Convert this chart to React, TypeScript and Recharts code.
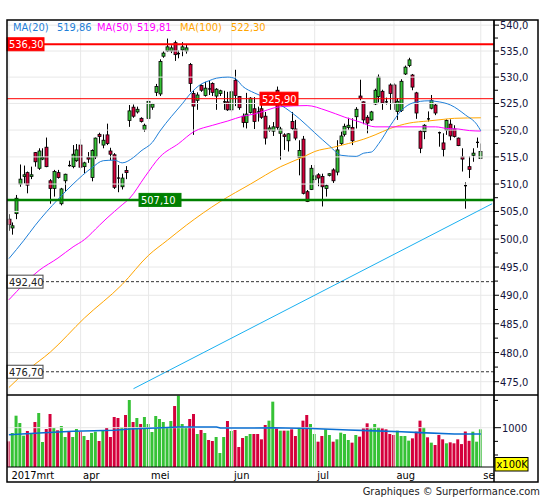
import React from "react";
import { ComposedChart, Bar, Line, XAxis, YAxis, ReferenceLine, Cell } from "recharts";

const FONT = "'DejaVu Sans Condensed', 'DejaVu Sans', sans-serif";
const GREEN = "#36c236";
const RED = "#d4003c";
const BLUE = "#1f7fd8";
const MAG = "#ff00ff";
const ORANGE = "#ffa500";
const TREND = "#1ab0f0";
const GRID = "#e8e8e8";
const TXT = "#14143c";

// trading days per month (2017); last three September slots are empty future space
const marDays = [7, 8, 9, 10, 13, 14, 15, 16, 17, 20, 21, 22, 23, 24, 27, 28, 29, 30, 31];
const aprDays = [3, 4, 5, 6, 7, 10, 11, 12, 13, 18, 19, 20, 21, 24, 25, 26, 27, 28];
const meiDays = [2, 3, 4, 5, 8, 9, 10, 11, 12, 15, 16, 17, 18, 19, 22, 23, 24, 25, 26, 29, 30, 31];
const junDays = [1, 2, 5, 6, 7, 8, 9, 12, 13, 14, 15, 16, 19, 20, 21, 22, 23, 26, 27, 28, 29, 30];
const julDays = [3, 4, 5, 6, 7, 10, 11, 12, 13, 14, 17, 18, 19, 20, 21, 24, 25, 26, 27, 28, 31];
const augDays = [1, 2, 3, 4, 7, 8, 9, 10, 11, 14, 15, 16, 17, 18, 21, 22, 23, 24, 25, 28, 29, 30, 31];
const sepDays = [1, 4, 5, 6];

const monthStarts = ["2017-03-07", "2017-04-03", "2017-05-02", "2017-06-01", "2017-07-03", "2017-08-01", "2017-09-01"];
const monthLabels = ["2017mrt", "apr", "mei", "jun", "jul", "aug", "se"];

const openV = [
  503.6, 502.0, 504.6, 510.0, 511.4, 512.1, 511.4, 515.8, 512.9, 514.6,
  516.8, 510.6, 509.2, 512.1, 506.4, 510.6, 513.5, 513.2, 514.3, 517.2,
  513.2, 514.9, 511.2, 515.0, 519.2, 517.2, 519.1, 516.1, 515.4, 511.2,
  509.5, 512.5, 521.8, 524.3, 523.4, 522.2, 520.1, 522.2, 524.3, 527.1,
  526.8, 534.0, 535.0, 535.0, 536.6, 534.4, 535.2, 535.0, 532.4, 526.9,
  525.6, 528.4, 526.5, 527.8, 528.8, 526.4, 526.9, 525.2, 525.3, 523.8,
  529.4, 526.3, 522.6, 521.4, 523.3, 524.0, 523.5, 524.0, 522.6, 520.0,
  519.8, 527.5, 519.4, 519.1, 518.0, 521.6, 520.2, 514.9, 518.3, 508.6,
  509.0, 510.8, 511.7, 511.4, 509.2, 511.6, 512.6, 512.2, 517.5, 519.2,
  520.5, 520.5, 522.5, 526.4, 525.3, 522.4, 521.9, 524.9, 526.3, 527.3,
  525.4, 528.5, 528.5, 523.5, 523.7, 530.6, 532.2, 530.4, 527.0, 519.8,
  519.7, 522.2, 524.1, 524.7, 519.6, 517.6, 520.0, 521.1, 520.2, 518.5,
  515.0, 509.8, 513.2, 515.3, 517.6, 514.7,
];
const highV = [
  504.5, 503.0, 508.0, 513.6, 513.4, 512.3, 513.2, 515.9, 516.6, 516.6,
  518.6, 510.9, 512.6, 512.6, 509.3, 511.9, 514.3, 517.2, 517.4, 518.3,
  514.1, 515.9, 516.4, 518.6, 519.5, 519.2, 521.2, 516.7, 515.7, 513.5,
  511.9, 513.3, 524.7, 524.8, 524.4, 522.4, 521.2, 525.6, 525.1, 528.7,
  533.4, 535.0, 537.4, 536.1, 537.0, 535.1, 536.7, 536.3, 532.7, 527.5,
  527.1, 528.6, 529.1, 529.4, 529.0, 527.9, 527.6, 527.4, 527.2, 527.5,
  531.4, 526.4, 523.1, 527.0, 526.2, 526.2, 524.4, 526.0, 523.4, 520.9,
  521.5, 528.2, 520.6, 519.4, 519.4, 523.4, 521.9, 518.1, 518.9, 508.9,
  513.5, 513.5, 512.0, 511.9, 509.9, 512.0, 512.9, 518.1, 519.7, 521.2,
  522.3, 522.2, 524.3, 529.5, 525.4, 522.8, 523.6, 527.8, 530.5, 527.6,
  526.1, 528.8, 528.8, 526.0, 529.6, 532.2, 533.7, 530.6, 527.2, 520.0,
  521.1, 523.5, 526.6, 524.9, 519.7, 519.4, 522.0, 522.0, 520.9, 518.6,
  516.6, 510.3, 515.1, 516.6, 518.6, 517.5,
];
const lowV = [
  501.5, 500.8, 503.6, 509.5, 510.1, 508.3, 510.9, 513.2, 512.6, 514.4,
  513.1, 506.4, 507.7, 511.0, 506.1, 508.6, 513.2, 512.9, 514.1, 512.7,
  512.0, 513.9, 510.5, 514.6, 517.5, 516.6, 517.2, 514.4, 509.1, 508.5,
  509.0, 510.9, 520.6, 522.3, 523.1, 521.4, 519.7, 521.6, 523.8, 526.4,
  526.4, 533.7, 534.8, 534.6, 533.1, 533.6, 534.0, 534.5, 527.2, 519.1,
  523.8, 527.2, 526.3, 526.6, 526.4, 523.8, 526.4, 523.8, 523.6, 523.4,
  524.5, 523.8, 520.5, 520.3, 523.1, 520.2, 521.6, 522.1, 517.3, 519.7,
  518.9, 520.0, 514.5, 516.3, 516.0, 520.0, 518.1, 511.6, 508.1, 506.7,
  508.9, 510.2, 509.6, 505.9, 507.7, 511.4, 510.2, 511.6, 517.2, 518.8,
  520.0, 517.2, 520.3, 525.6, 521.1, 519.4, 521.7, 524.7, 525.2, 523.8,
  524.8, 523.8, 523.8, 521.9, 523.4, 530.4, 531.9, 527.5, 522.1, 515.7,
  518.3, 521.6, 523.9, 522.8, 516.9, 515.0, 519.1, 518.1, 518.6, 517.0,
  512.3, 505.5, 511.1, 514.1, 516.7, 514.6,
];
const closeV = [
  502.6, 502.4, 507.4, 510.9, 511.7, 509.8, 511.7, 514.1, 516.1, 514.9,
  513.2, 509.2, 512.3, 511.2, 509.1, 511.8, 513.3, 515.5, 516.3, 513.1,
  513.9, 514.6, 516.2, 518.5, 518.8, 518.1, 517.5, 515.5, 509.4, 511.0,
  511.1, 512.1, 523.6, 522.6, 523.9, 521.6, 520.9, 525.4, 524.9, 528.2,
  533.0, 534.6, 535.8, 535.6, 534.3, 534.6, 535.8, 535.6, 528.8, 524.5,
  526.6, 527.5, 527.9, 527.7, 527.1, 527.7, 527.4, 525.4, 523.8, 527.2,
  526.5, 524.2, 521.4, 523.0, 526.0, 521.6, 523.3, 522.4, 518.5, 520.4,
  520.6, 520.5, 520.2, 518.8, 519.3, 520.3, 518.5, 516.2, 508.3, 506.8,
  512.9, 511.5, 511.1, 509.5, 509.7, 511.9, 510.6, 516.3, 518.9, 520.7,
  520.9, 518.0, 523.9, 526.0, 521.9, 521.3, 523.4, 527.5, 530.0, 525.1,
  525.2, 526.9, 525.1, 525.4, 529.2, 531.9, 533.3, 528.1, 523.2, 516.6,
  520.9, 522.0, 525.6, 523.2, 519.4, 516.4, 521.8, 518.9, 518.8, 517.1,
  514.6, 509.6, 512.7, 515.7, 517.8, 516.0,
];
// volume in units of 100K
const volumeV = [
  750, 903, 1220, 1086, 854, 940, 903, 1104, 1269, 738,
  976, 1251, 994, 952, 1031, 830, 921, 830, 976, 927,
  848, 775, 903, 927, 756, 958, 994, 830, 1196, 1178,
  1013, 1233, 1507, 1104, 1178, 1068, 1196, 1068, 921, 1214,
  1159, 1104, 1013, 1123, 1397, 1587, 1068, 994, 1159, 1251,
  885, 958, 903, 775, 756, 830, 537, 830, 1123, 940,
  958, 646, 811, 848, 885, 885, 885, 787, 1049, 1129,
  1477, 988, 946, 946, 946, 970, 848, 1007, 1129, 1233,
  1068, 885, 744, 848, 970, 866, 744, 787, 909, 885,
  775, 726, 866, 836, 988, 1080, 988, 1068, 1007, 988,
  970, 885, 866, 946, 848, 848, 763, 805, 927, 1129,
  1007, 824, 726, 683, 866, 787, 714, 732, 714, 787,
  700, 930, 760, 927, 744, 970,
];

// moving averages: [day index, value]
const ma20Pts = [
  [0, 496.5], [4, 499.8], [7, 502.5], [13, 507.2], [17, 510.0], [22, 513.0], [25, 514.3], [28, 514.4],
  [30, 513.9], [33, 514.9], [35, 516.1], [38, 517.7], [40, 519.8], [43, 522.5], [46, 525.0], [48, 526.8],
  [51, 528.7], [53, 529.3], [55, 529.8], [58, 530.0], [60, 529.7], [62, 528.2], [65, 527.0], [69, 525.8],
  [72, 524.7], [77, 522.1], [81, 519.5], [85, 517.0], [88, 515.3], [92, 515.1], [94, 515.7], [96, 515.9],
  [98, 517.5], [101, 520.8], [104, 523.7], [107, 525.1], [111, 525.5], [114, 525.3], [117, 524.7],
  [121, 522.8], [124, 521.0], [125, 519.86],
];
const ma50Pts = [
  [0, 489.2], [8, 494.4], [13, 496.6], [17, 498.6], [20, 499.9], [24, 502.5], [26, 503.8], [30, 506.2],
  [32, 507.4], [36, 511.3], [40, 515.0], [45, 517.5], [49, 519.7], [54, 520.9], [58, 521.7], [62, 522.6],
  [65, 523.0], [72, 524.4], [79, 524.6], [84, 523.7], [89, 522.4], [93, 521.5], [97, 520.6], [101, 520.6],
  [106, 520.6], [113, 520.6], [116, 520.3], [119, 520.2], [122, 519.9], [125, 519.81],
];
const ma100Pts = [
  [0, 474.0], [5, 477.0], [11, 480.1], [20, 486.0], [30, 491.9], [37, 497.1], [42, 499.8], [47, 502.5],
  [56, 506.8], [64, 510.0], [72, 513.2], [78, 515.0], [81, 516.0], [86, 516.8], [90, 517.5], [94, 518.3],
  [97, 519.1], [101, 520.3], [106, 521.3], [111, 521.7], [115, 522.0], [118, 522.2], [125, 522.3],
];
const volMaPts = [
  [0, 872], [8, 903], [17, 934], [28, 952], [32, 976], [39, 994], [45, 1013], [55, 1013], [56, 994],
  [64, 994], [70, 1000], [80, 985], [90, 958], [95, 946], [104, 927], [109, 909], [118, 885], [125, 885],
];
const trendPts = [[33, 473.8], [128, 506.4]];

const priceMajor = [475, 480, 485, 490, 495, 500, 505, 510, 515, 520, 525, 530, 535, 540];
const priceMinor = [477.5, 482.5, 487.5, 492.5, 497.5, 502.5, 507.5, 512.5, 517.5, 522.5, 527.5, 532.5, 537.5];
const priceTicks = [...priceMajor, ...priceMinor].sort((a, b) => a - b);
const volTicks = [500, 750, 1000, 1500];

const levels = [
  { v: 536.3, stroke: "#ff0000", w: 2, dash: undefined, bg: "#ff0000", fg: "#ffffff", border: "#ff0000", dx: 0, bw: 37 },
  { v: 525.9, stroke: "#ff0000", w: 1, dash: undefined, bg: "#ff0000", fg: "#ffffff", border: "#ff0000", dx: 253, bw: 38 },
  { v: 507.1, stroke: "#008000", w: 2.5, dash: undefined, bg: "#008000", fg: "#ffffff", border: "#008000", dx: 132, bw: 42 },
  { v: 492.4, stroke: "#333333", w: 1, dash: "3 2", bg: "#ffffff", fg: "#222222", border: "#444444", dx: 0, bw: 36 },
  { v: 476.7, stroke: "#333333", w: 1, dash: "3 2", bg: "#ffffff", fg: "#222222", border: "#444444", dx: 0, bw: 36 },
];

const comma = (v: number, d: number) => v.toFixed(d).replace(".", ",");

const dates: string[] = [];
const addMonth = (m: string, days: number[]) =>
  days.forEach((d) => dates.push(`2017-${m}-${String(d).padStart(2, "0")}`));
addMonth("03", marDays);
addMonth("04", aprDays);
addMonth("05", meiDays);
addMonth("06", junDays);
addMonth("07", julDays);
addMonth("08", augDays);
addMonth("09", sepDays);

const pick = (pts: number[][], i: number) => {
  const p = pts.find((q) => q[0] === i);
  return p ? p[1] : null;
};

const rows = dates.map((date, i) => {
  const has = i < openV.length;
  return {
    date,
    open: has ? openV[i] : null,
    high: has ? highV[i] : null,
    low: has ? lowV[i] : null,
    close: has ? closeV[i] : null,
    range: has ? [lowV[i], highV[i]] : null,
    volume: has ? volumeV[i] : null,
    up: has ? closeV[i] >= openV[i] : true,
    ma20: pick(ma20Pts, i),
    ma50: pick(ma50Pts, i),
    ma100: pick(ma100Pts, i),
    volMa: pick(volMaPts, i),
    trend: pick(trendPts, i),
  };
});

const Candle = (props: any) => {
  const { x, y, width, height, payload } = props;
  if (!payload || payload.open == null || x == null || y == null) return <g />;
  const top = Math.min(y, y + height);
  const h = Math.abs(height);
  const lh = Math.log(payload.high);
  const ll = Math.log(payload.low);
  const span = lh - ll;
  const py = (v: number) => (span > 0 ? top + ((lh - Math.log(v)) / span) * h : top);
  const cx = Math.round(x + width / 2) + 0.5;
  const up = payload.close >= payload.open;
  const bt = py(Math.max(payload.open, payload.close));
  const bb = py(Math.min(payload.open, payload.close));
  return (
    <g>
      <line x1={cx} x2={cx} y1={top} y2={top + h} stroke="#000" strokeWidth={1} />
      {bb - bt < 1.2 ? (
        <line x1={cx - 1.5} x2={cx + 1.5} y1={(bt + bb) / 2} y2={(bt + bb) / 2} stroke="#000" strokeWidth={1.3} />
      ) : (
        <rect x={cx - 1.5} y={bt} width={3} height={bb - bt} fill={up ? GREEN : RED} stroke="#000" strokeWidth={0.8} />
      )}
    </g>
  );
};

const PriceTick = (props: any) => {
  const { x, y, payload } = props;
  const v = payload.value;
  const major = Math.abs(v / 5 - Math.round(v / 5)) < 0.001;
  return (
    <g>
      <line x1={x} x2={x + (major ? 5 : 4)} y1={y} y2={y} stroke="#000" strokeWidth={1} />
      {major && (
        <text x={x + 6} y={y} dy="0.36em" fontSize={11} fontFamily={FONT} fill={TXT}>
          {comma(v, 1)}
        </text>
      )}
    </g>
  );
};

const VolTick = (props: any) => {
  const { x, y, payload } = props;
  const v = payload.value;
  const major = v === 1000;
  return (
    <g>
      <line x1={x} x2={x + (major ? 7 : 4)} y1={y} y2={y} stroke="#000" strokeWidth={1} />
      {major && (
        <text x={x + 8} y={y} dy="0.36em" fontSize={11} fontFamily={FONT} fill={TXT}>
          {String(v)}
        </text>
      )}
    </g>
  );
};

const DateTick = (props: any) => {
  const { x, y, payload } = props;
  const k = monthStarts.indexOf(payload.value);
  if (k < 0) return <g />;
  return (
    <text x={x + 2.5} y={y + 11.5} fontSize={11} fontFamily={FONT} fill="#000">
      {monthLabels[k]}
    </text>
  );
};

const LevelTag = (props: any) => {
  const { viewBox, text, dx, bg, fg, border, bw } = props;
  if (!viewBox) return null;
  const x = viewBox.x + dx;
  const y = viewBox.y;
  return (
    <g>
      <rect x={x} y={y - 6.5} width={bw} height={13} fill={bg} stroke={border} strokeWidth={1} />
      <text x={x + 2} y={y} dy="0.36em" fontSize={11} fontFamily={FONT} fill={fg}>
        {text}
      </text>
    </g>
  );
};

const legend = [
  { t: "MA(20)", x: 13, c: BLUE },
  { t: comma(ma20Pts[ma20Pts.length - 1][1], 2), x: 57, c: BLUE },
  { t: "MA(50)", x: 97, c: MAG },
  { t: comma(ma50Pts[ma50Pts.length - 1][1], 2), x: 137, c: MAG },
  { t: "MA(100)", x: 180, c: ORANGE },
  { t: comma(ma100Pts[ma100Pts.length - 1][1], 2), x: 231, c: ORANGE },
];

export default function App() {
  return (
    <div style={{ position: "absolute", left: 0, top: 0, width: 545, height: 500, background: "#fff", fontFamily: FONT }}>
      <div style={{ position: "absolute", left: 0, top: 0 }}>
        <ComposedChart width={545} height={395} data={rows} margin={{ top: 20, right: 0, bottom: 1, left: 7 }}>
          <XAxis dataKey="date" hide />
          <YAxis
            orientation="right"
            width={51}
            type="number"
            scale="log"
            domain={[472.9, 541]}
            allowDataOverflow
            ticks={priceTicks}
            interval={0}
            tickSize={0}
            tickMargin={0}
            tickLine={false}
            axisLine={{ stroke: "#000" }}
            tick={<PriceTick />}
          />
          {priceMajor.map((v) => (
            <ReferenceLine key={"ph" + v} y={v} stroke={GRID} strokeWidth={1} />
          ))}
          {monthStarts.map((d) => (
            <ReferenceLine key={"pv" + d} x={d} stroke={GRID} strokeWidth={1} />
          ))}
          <Line dataKey="ma100" stroke={ORANGE} strokeWidth={1} dot={false} activeDot={false} connectNulls type="monotone" isAnimationActive={false} />
          <Line dataKey="ma50" stroke={MAG} strokeWidth={1} dot={false} activeDot={false} connectNulls type="monotone" isAnimationActive={false} />
          <Line dataKey="ma20" stroke={BLUE} strokeWidth={1} dot={false} activeDot={false} connectNulls type="monotone" isAnimationActive={false} />
          <Line dataKey="trend" stroke={TREND} strokeWidth={1} dot={false} activeDot={false} connectNulls type="linear" isAnimationActive={false} />
          <Bar dataKey="range" barSize={3} shape={Candle} isAnimationActive={false} />
          {levels.map((l) => (
            <ReferenceLine
              key={"lv" + l.v}
              y={l.v}
              stroke={l.stroke}
              strokeWidth={l.w}
              strokeDasharray={l.dash}
              label={<LevelTag text={comma(l.v, 2)} dx={l.dx} bg={l.bg} fg={l.fg} border={l.border} bw={l.bw} />}
            />
          ))}
        </ComposedChart>
      </div>
      <div style={{ position: "absolute", left: 0, top: 395 }}>
        <ComposedChart width={545} height={87} data={rows} margin={{ top: 0, right: 0, bottom: 0, left: 7 }}>
          <XAxis
            dataKey="date"
            ticks={monthStarts}
            interval={0}
            height={15}
            tickSize={0}
            tickMargin={0}
            tickLine={false}
            axisLine={{ stroke: "#000" }}
            tick={<DateTick />}
          />
          <YAxis
            orientation="right"
            width={51}
            type="number"
            domain={[280, 1599]}
            allowDataOverflow
            ticks={volTicks}
            interval={0}
            tickSize={0}
            tickMargin={0}
            tickLine={false}
            axisLine={{ stroke: "#000" }}
            tick={<VolTick />}
          />
          <ReferenceLine y={1000} stroke={GRID} strokeWidth={1} />
          {monthStarts.map((d) => (
            <ReferenceLine key={"vv" + d} x={d} stroke={GRID} strokeWidth={1} />
          ))}
          <Bar dataKey="volume" barSize={3} isAnimationActive={false}>
            {rows.map((r, i) => (
              <Cell key={"c" + i} fill={r.up ? GREEN : RED} />
            ))}
          </Bar>
          <Line dataKey="volMa" stroke="#0a6fd2" strokeWidth={1.6} dot={false} activeDot={false} connectNulls type="linear" isAnimationActive={false} />
        </ComposedChart>
      </div>
      <svg width={545} height={500} style={{ position: "absolute", left: 0, top: 0, pointerEvents: "none" }}>
        <rect x={7} y={20} width={531} height={462} fill="none" stroke="#000" strokeWidth={1.5} />
        <line x1={7} x2={538} y1={395} y2={395} stroke="#000" strokeWidth={1.5} />
        <line x1={494} x2={494} y1={20} y2={482} stroke="#000" strokeWidth={1.5} />
        {legend.map((l) => (
          <text key={l.t + l.x} x={l.x} y={27} dy="0.36em" fontSize={11} fontFamily={FONT} fill={l.c}>
            {l.t}
          </text>
        ))}
        <rect x={495} y={457.5} width={33} height={13.5} fill="#ffff00" stroke="#000" strokeWidth={1} />
        <text x={496.5} y={464.3} dy="0.36em" fontSize={11} fontFamily={FONT} fill="#000">
          x100K
        </text>
        <text x={540} y={491} dy="0.36em" textAnchor="end" fontSize={11} fontFamily={FONT} fill="#222">
          Graphiques © Surperformance.com
        </text>
      </svg>
    </div>
  );
}
